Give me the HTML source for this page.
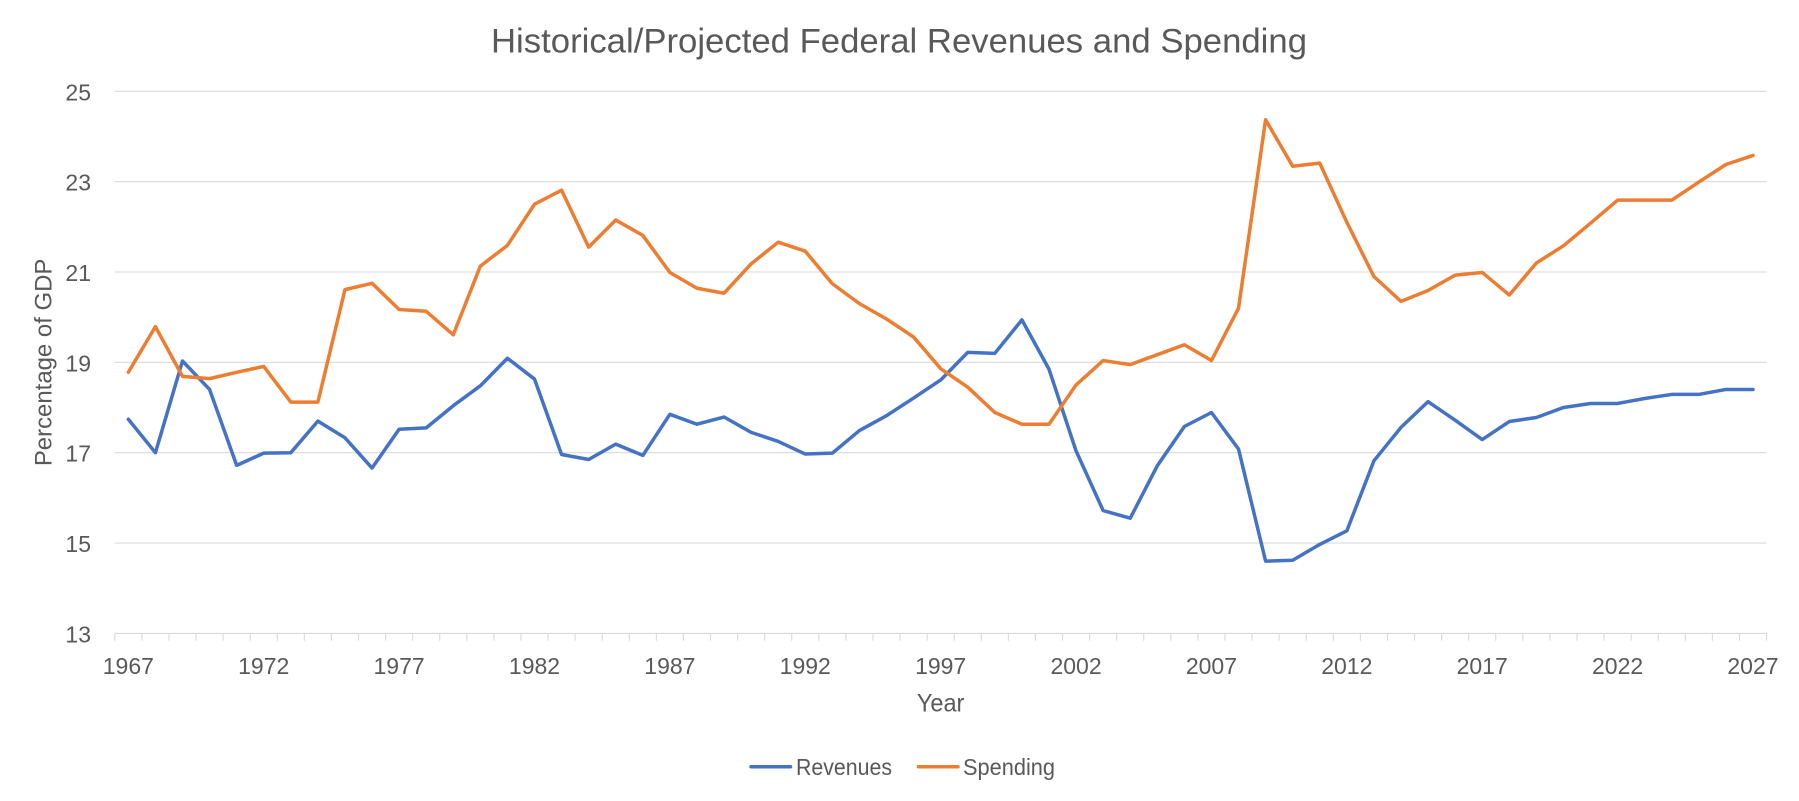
<!DOCTYPE html>
<html>
<head>
<meta charset="utf-8">
<style>
  html, body { margin: 0; padding: 0; background: #ffffff; }
  svg { display: block; }
  text { font-family: "Liberation Sans", "DejaVu Sans", sans-serif; fill: #595959; }
</style>
</head>
<body>
<svg width="1799" height="801" viewBox="0 0 1799 801" xmlns="http://www.w3.org/2000/svg">
  <rect x="0" y="0" width="1799" height="801" fill="#ffffff"/>

  <!-- Title -->
  <text x="899" y="52.7" font-size="34" text-anchor="middle" textLength="816" lengthAdjust="spacingAndGlyphs">Historical/Projected Federal Revenues and Spending</text>

  <!-- Gridlines -->
  <g stroke="#d9d9d9" stroke-width="1.1" fill="none">
    <line x1="114.8" y1="91.3" x2="1766.5" y2="91.3"/>
    <line x1="114.8" y1="181.65" x2="1766.5" y2="181.65"/>
    <line x1="114.8" y1="272.0" x2="1766.5" y2="272.0"/>
    <line x1="114.8" y1="362.35" x2="1766.5" y2="362.35"/>
    <line x1="114.8" y1="452.7" x2="1766.5" y2="452.7"/>
    <line x1="114.8" y1="543.05" x2="1766.5" y2="543.05"/>
    <line x1="114.8" y1="633.4" x2="1766.5" y2="633.4"/>
  </g>

  <!-- Tick marks -->
  <g transform="translate(114.8,633.4) scale(27.0777,7.3)">
    <path vector-effect="non-scaling-stroke" stroke="#d9d9d9" stroke-width="1.1" fill="none"
      d="M0,0V1M1,0V1M2,0V1M3,0V1M4,0V1M5,0V1M6,0V1M7,0V1M8,0V1M9,0V1M10,0V1M11,0V1M12,0V1M13,0V1M14,0V1M15,0V1M16,0V1M17,0V1M18,0V1M19,0V1M20,0V1M21,0V1M22,0V1M23,0V1M24,0V1M25,0V1M26,0V1M27,0V1M28,0V1M29,0V1M30,0V1M31,0V1M32,0V1M33,0V1M34,0V1M35,0V1M36,0V1M37,0V1M38,0V1M39,0V1M40,0V1M41,0V1M42,0V1M43,0V1M44,0V1M45,0V1M46,0V1M47,0V1M48,0V1M49,0V1M50,0V1M51,0V1M52,0V1M53,0V1M54,0V1M55,0V1M56,0V1M57,0V1M58,0V1M59,0V1M60,0V1M61,0V1"/>
  </g>

  <!-- Y tick labels -->
  <g font-size="23" text-anchor="end">
    <text x="91" y="100.3">25</text>
    <text x="91" y="190.65">23</text>
    <text x="91" y="281.0">21</text>
    <text x="91" y="371.35">19</text>
    <text x="91" y="461.7">17</text>
    <text x="91" y="552.05">15</text>
    <text x="91" y="642.4">13</text>
  </g>

  <!-- X tick labels -->
  <g font-size="23" text-anchor="middle">
    <text x="128.34" y="674">1967</text>
    <text x="263.73" y="674">1972</text>
    <text x="399.11" y="674">1977</text>
    <text x="534.50" y="674">1982</text>
    <text x="669.88" y="674">1987</text>
    <text x="805.27" y="674">1992</text>
    <text x="940.65" y="674">1997</text>
    <text x="1076.04" y="674">2002</text>
    <text x="1211.42" y="674">2007</text>
    <text x="1346.81" y="674">2012</text>
    <text x="1482.19" y="674">2017</text>
    <text x="1617.58" y="674">2022</text>
    <text x="1752.96" y="674">2027</text>
  </g>

  <!-- Axis titles -->
  <text x="940.6" y="711.7" font-size="25" text-anchor="middle" textLength="47.5" lengthAdjust="spacingAndGlyphs">Year</text>
  <text transform="translate(51.7,362.4) rotate(-90)" x="0" y="0" font-size="24" text-anchor="middle" textLength="207.5" lengthAdjust="spacingAndGlyphs">Percentage of GDP</text>

  <!-- Series -->
  <g transform="translate(128.34,1220.675) scale(27.0777,-45.175)" fill="none" stroke-linejoin="round" stroke-linecap="round">
    <polyline vector-effect="non-scaling-stroke" stroke="#4472c4" stroke-width="3.5"
      points="0,17.74 1,17.0 2,19.03 3,18.4 4,16.72 5,16.99 6,17.0 7,17.7 8,17.33 9,16.66 10,17.52 11,17.55 12,18.04 13,18.48 14,19.09 15,18.63 16,16.96 17,16.85 18,17.19 19,16.94 20,17.85 21,17.63 22,17.79 23,17.45 24,17.25 25,16.97 26,16.99 27,17.49 28,17.82 29,18.21 30,18.61 31,19.22 32,19.2 33,19.94 34,18.85 35,17.04 36,15.72 37,15.55 38,16.71 39,17.58 40,17.89 41,17.08 42,14.6 43,14.62 44,14.97 45,15.27 46,16.82 47,17.56 48,18.13 49,17.72 50,17.29 51,17.69 52,17.78 53,18.0 54,18.09 55,18.09 56,18.2 57,18.29 58,18.29 59,18.4 60,18.4"/>
    <polyline vector-effect="non-scaling-stroke" stroke="#ed7d31" stroke-width="3.5"
      points="0,18.78 1,19.79 2,18.69 3,18.64 4,18.78 5,18.91 6,18.12 7,18.12 8,20.61 9,20.75 10,20.17 11,20.13 12,19.61 13,21.13 14,21.59 15,22.5 16,22.81 17,21.55 18,22.15 19,21.81 20,20.99 21,20.64 22,20.53 23,21.18 24,21.66 25,21.46 26,20.74 27,20.3 28,19.96 29,19.56 30,18.86 31,18.45 32,17.89 33,17.63 34,17.63 35,18.5 36,19.04 37,18.95 38,19.17 39,19.39 40,19.04 41,20.2 42,24.37 43,23.34 44,23.41 45,22.1 46,20.9 47,20.35 48,20.59 49,20.93 50,20.99 51,20.49 52,21.2 53,21.58 54,22.08 55,22.59 56,22.59 57,22.59 58,22.99 59,23.38 60,23.58"/>
  </g>

  <!-- Legend -->
  <line x1="751" y1="766.7" x2="790.5" y2="766.7" stroke="#4472c4" stroke-width="3.5" stroke-linecap="round"/>
  <text x="796" y="775" font-size="23" textLength="96" lengthAdjust="spacingAndGlyphs">Revenues</text>
  <line x1="918.5" y1="766.7" x2="958" y2="766.7" stroke="#ed7d31" stroke-width="3.5" stroke-linecap="round"/>
  <text x="963" y="775" font-size="23" textLength="92" lengthAdjust="spacingAndGlyphs">Spending</text>
</svg>
</body>
</html>
